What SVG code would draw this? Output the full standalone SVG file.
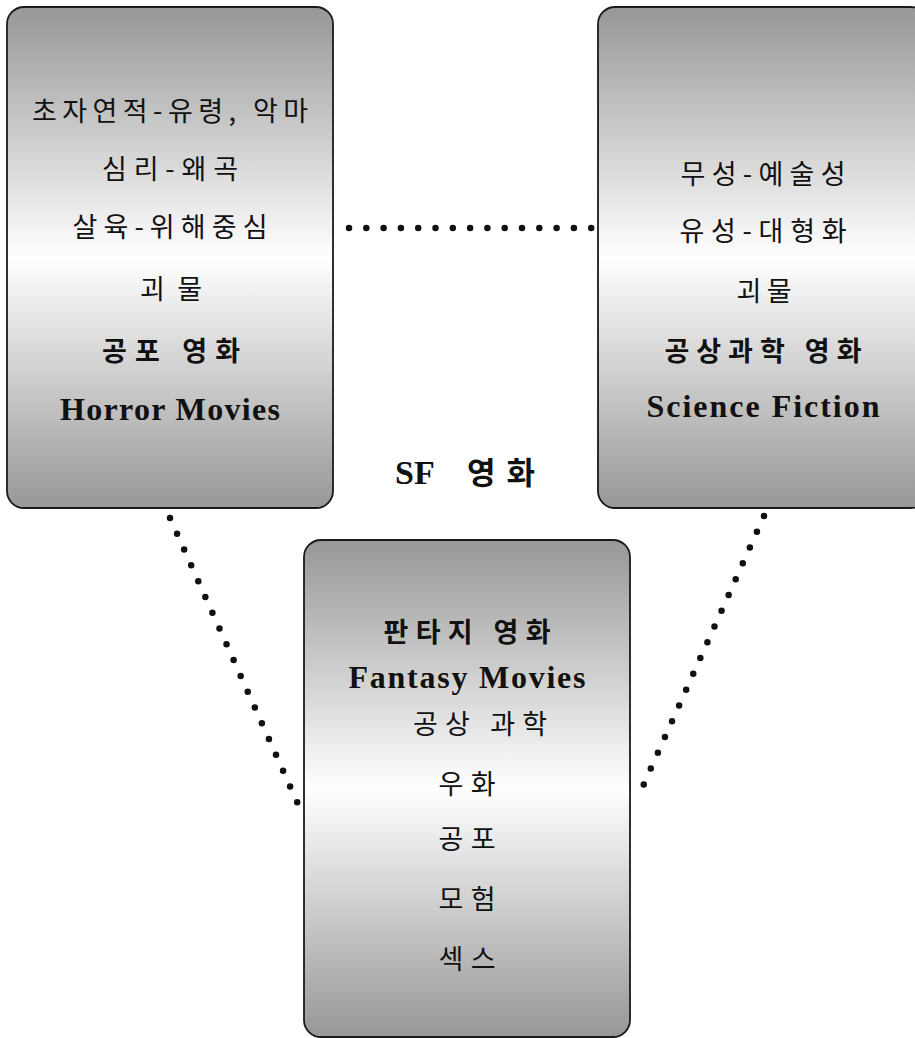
<svg xmlns="http://www.w3.org/2000/svg" width="915" height="1038" viewBox="0 0 915 1038">
<defs>
<linearGradient id="g" x1="0" y1="0" x2="0" y2="1">
<stop offset="0" stop-color="#979797"/>
<stop offset="0.5" stop-color="#ffffff"/>
<stop offset="1" stop-color="#979797"/>
</linearGradient>
</defs>
<style>
.box{fill:url(#g);stroke:#1a1a1a;stroke-width:1.8}
.ko{font-family:"Noto Sans CJK KR","Noto Sans",sans-serif;font-size:27px;fill:#111;text-anchor:middle}
.kb{font-family:"Noto Sans CJK KR","Noto Sans",sans-serif;font-size:27px;font-weight:bold;fill:#111;text-anchor:middle}
.en{font-family:"Liberation Serif",serif;font-size:32px;font-weight:bold;fill:#111;text-anchor:middle}
.dot{stroke:#111;stroke-width:6.5;stroke-linecap:round;stroke-dasharray:0 17.3;fill:none}
</style>
<g id="connectors">
<line class="dot" x1="349" y1="228" x2="592" y2="228"/>
<line class="dot" x1="170" y1="518" x2="298" y2="804"/>
<line class="dot" x1="764" y1="516" x2="643" y2="786"/>
</g>
<g id="horror">
<rect class="box" x="7" y="7" width="326" height="501" rx="17"/>
<text class="ko" x="170" y="121" textLength="276" lengthAdjust="spacing">초자연적-유령, 악마</text>
<text class="ko" x="170" y="179" textLength="136" lengthAdjust="spacing">심리-왜곡</text>
<text class="ko" x="170" y="237" textLength="195" lengthAdjust="spacing">살육-위해중심</text>
<text class="ko" x="171" y="299" textLength="62" lengthAdjust="spacing">괴물</text>
<text class="kb" x="171" y="361" textLength="138" lengthAdjust="spacing">공포 영화</text>
<text class="en" x="170" y="420" textLength="220" lengthAdjust="spacing">Horror Movies</text>
</g>
<g id="scifi">
<rect class="box" x="598" y="7" width="330" height="501" rx="17"/>
<text class="ko" x="763" y="184" textLength="165" lengthAdjust="spacing">무성-예술성</text>
<text class="ko" x="763" y="241" textLength="167" lengthAdjust="spacing">유성-대형화</text>
<text class="ko" x="764" y="301" textLength="55" lengthAdjust="spacing">괴물</text>
<text class="kb" x="763" y="361" textLength="197" lengthAdjust="spacing">공상과학 영화</text>
<text class="en" x="763" y="417" textLength="233" lengthAdjust="spacing">Science Fiction</text>
</g>
<g id="sf-label">
<text x="395" y="484" font-family="Liberation Serif,'Noto Sans CJK KR',serif" font-size="34" font-weight="bold" fill="#111"><tspan>SF</tspan><tspan x="467" font-family="'Noto Sans CJK KR',sans-serif" font-size="31" textLength="68" lengthAdjust="spacing">영화</tspan></text>
</g>
<g id="fantasy">
<rect class="box" x="304" y="540" width="326" height="497" rx="17"/>
<text class="kb" x="467" y="642" textLength="167" lengthAdjust="spacing">판타지 영화</text>
<text class="en" x="467" y="688" textLength="237" lengthAdjust="spacing">Fantasy Movies</text>
<text class="ko" x="480" y="734" textLength="134" lengthAdjust="spacing">공상 과학</text>
<text class="ko" x="467" y="794" textLength="57" lengthAdjust="spacing">우화</text>
<text class="ko" x="467" y="849" textLength="57" lengthAdjust="spacing">공포</text>
<text class="ko" x="467" y="909" textLength="57" lengthAdjust="spacing">모험</text>
<text class="ko" x="467" y="969" textLength="57" lengthAdjust="spacing">섹스</text>
</g>
</svg>
